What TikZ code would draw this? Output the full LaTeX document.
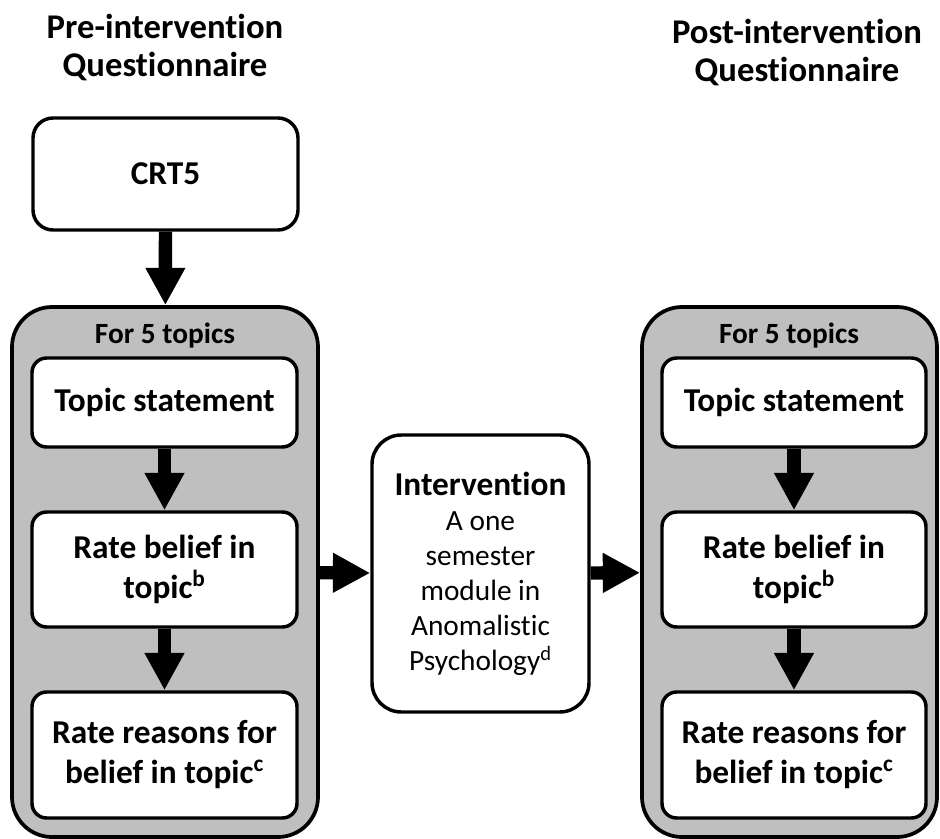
\documentclass[tikz,border=0pt]{standalone}
\usepackage{fontspec}
\setmainfont{Carlito}[Ligatures=NoCommon]
\usetikzlibrary{arrows.meta,positioning}
\definecolor{loopgray}{RGB}{191,191,191}

\tikzset{
  stepbox/.style={draw,line width=2.6pt,rounded corners=11pt,fill=white,align=center,
    inner sep=0pt,minimum width=198.75pt,font=\bfseries\fontsize{25}{30}\selectfont},
  loopbox/.style={draw,line width=2.8pt,rounded corners=30pt,fill=loopgray,
    minimum height=397.5pt},
  headline/.style={align=center,font=\bfseries\fontsize{26}{28.5}\selectfont},
  forlabel/.style={font=\bfseries\fontsize{22}{24}\selectfont},
  bigarrow/.style={line width=10pt,-{Triangle[length=28pt,width=28pt]}}
}

\begin{document}
\begin{tikzpicture}[x=0.75pt,y=-0.75pt]
\useasboundingbox (0,0) rectangle (940,839);

% Pre-intervention side
\node[headline] (pretitle) at (165,48) {Pre-intervention\\Questionnaire};
\node[stepbox,rounded corners=15pt,minimum height=84pt] (crt) at (165.5,174) {CRT5};
\node[loopbox,minimum width=229.5pt] (pre) at (165,572) {};
\node[forlabel] (prefor) at (165,336) {For 5 topics};
\node[stepbox,minimum height=66.75pt] (prets) at (164.5,402.5) {Topic statement};
\node[stepbox,minimum height=86.25pt] (prerb) at (164.5,569.5) {Rate belief in\\topic\textsuperscript{b}};
\node[stepbox,minimum height=94.5pt] (prerr) at (164.5,755) {Rate reasons for\\belief in topic\textsuperscript{c}};

% Intervention
\node[stepbox,rounded corners=22pt,minimum width=162.75pt,minimum height=207.75pt,
  font=\fontsize{22}{26.25}\selectfont] (intv) at (480.5,573.5)
  {{\bfseries\fontsize{25}{26.25}\selectfont Intervention}\\A one\\semester\\module in\\Anomalistic\\Psychology\textsuperscript{d}};

% Post-intervention side
\node[headline] (posttitle) at (797,53) {Post-intervention\\Questionnaire};
\node[loopbox,minimum width=221.25pt] (post) at (789.5,572) {};
\node[forlabel] (postfor) at (789,336) {For 5 topics};
\node[stepbox,minimum width=198pt,minimum height=66.75pt] (postts) at (794,402.5) {Topic statement};
\node[stepbox,minimum width=198pt,minimum height=86.25pt] (postrb) at (794,569.5) {Rate belief in\\topic\textsuperscript{b}};
\node[stepbox,minimum width=198pt,minimum height=94.5pt] (postrr) at (794,755) {Rate reasons for\\belief in topic\textsuperscript{c}};

% Arrows
\draw[bigarrow] (crt) -- (pre);
\draw[bigarrow] (prets) -- (prerb);
\draw[bigarrow] (prerb) -- (prerr);
\draw[bigarrow] (pre) -- (intv);
\draw[bigarrow] (intv) -- (post);
\draw[bigarrow] (postts) -- (postrb);
\draw[bigarrow] (postrb) -- (postrr);
\end{tikzpicture}
\end{document}
